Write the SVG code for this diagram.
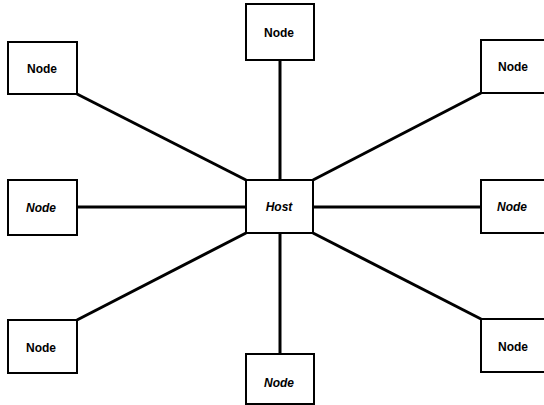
<svg xmlns="http://www.w3.org/2000/svg" width="544" height="405" viewBox="0 0 544 405">
<style>
.box{fill:#fff;stroke:#000;stroke-width:2}
.lbl{font-family:"Liberation Sans",Arial,sans-serif;font-size:12px;font-weight:bold;fill:#000;text-anchor:middle;dominant-baseline:central}
.it{font-style:italic}
.ln{stroke:#000;stroke-width:3;fill:none}
</style>
<rect width="544" height="405" fill="#fff"/>
<g id="connectors">
<line class="ln" x1="77" y1="94" x2="246" y2="180"/>
<line class="ln" x1="280" y1="60" x2="280" y2="180"/>
<line class="ln" x1="481" y1="93" x2="313" y2="180"/>
<line class="ln" x1="77" y1="207" x2="246" y2="207"/>
<line class="ln" x1="313" y1="207" x2="481" y2="207"/>
<line class="ln" x1="246" y1="233" x2="77" y2="320"/>
<line class="ln" x1="280" y1="233" x2="280" y2="354"/>
<line class="ln" x1="313" y1="233" x2="481" y2="319"/>
</g>
<g id="host"><rect class="box" x="246" y="180" width="67" height="53"/><text class="lbl it" x="279" y="207">Host</text></g>
<g id="node-top"><rect class="box" x="246" y="4" width="68" height="56"/><text class="lbl" x="279" y="33">Node</text></g>
<g id="node-top-left"><rect class="box" x="8" y="42" width="69" height="52"/><text class="lbl" x="42" y="69">Node</text></g>
<g id="node-top-right"><rect class="box" x="481" y="40" width="69" height="53"/><text class="lbl" x="513" y="67">Node</text></g>
<g id="node-left"><rect class="box" x="8" y="180" width="69" height="55"/><text class="lbl it" x="41" y="208">Node</text></g>
<g id="node-right"><rect class="box" x="481" y="180" width="69" height="53"/><text class="lbl it" x="512" y="207">Node</text></g>
<g id="node-bottom-left"><rect class="box" x="8" y="320" width="69" height="53"/><text class="lbl" x="41" y="348">Node</text></g>
<g id="node-bottom"><rect class="box" x="246" y="354" width="68" height="50"/><text class="lbl it" x="279" y="383">Node</text></g>
<g id="node-bottom-right"><rect class="box" x="481" y="319" width="69" height="53"/><text class="lbl" x="513" y="347">Node</text></g>
</svg>
